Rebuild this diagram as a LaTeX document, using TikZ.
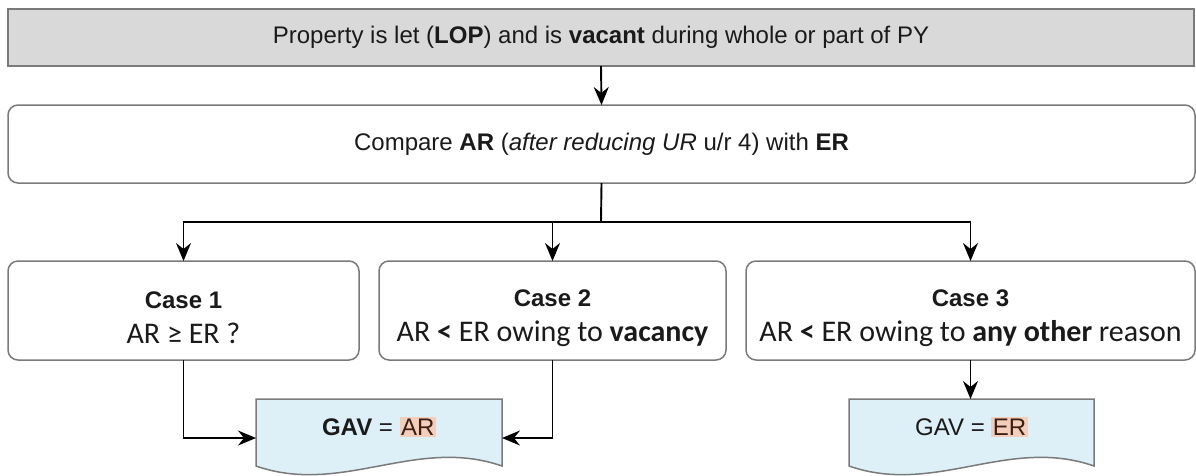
\documentclass[tikz,border=0pt]{standalone}
\usepackage{fontspec}
\setmainfont{Liberation Sans}
\newfontfamily\calfont{Carlito}
\usetikzlibrary{arrows.meta,backgrounds,calc}
\definecolor{barfill}{HTML}{D9D9D9}
\definecolor{edgegray}{HTML}{7A7A7A}
\definecolor{docfill}{HTML}{DDEFF7}
\definecolor{hl}{HTML}{F5CDBB}
\definecolor{hltext}{HTML}{3B1E14}
\definecolor{txt}{HTML}{1A1A1A}
\newcommand{\hlbox}[1]{{\setlength{\fboxsep}{1.5pt}\colorbox{hl}{\color{hltext}#1}}}
\newcommand{\casehead}[1]{{\fontspec{Liberation Sans}\fontsize{24}{28}\selectfont\bfseries\rule{0pt}{32pt}#1}}
\begin{document}
\begin{tikzpicture}[x=1pt,y=-1pt,
  every node/.style={inner sep=0pt,outer sep=0pt,text=txt},
  topbar/.style={draw=edgegray,line width=1.5pt,fill=barfill,minimum width=1186pt,minimum height=57pt,font=\fontsize{24}{28}\selectfont},
  cmpbox/.style={draw=edgegray,line width=1.5pt,rounded corners=10pt,minimum width=1187pt,minimum height=78pt,font=\fontsize{24}{28}\selectfont},
  casebox/.style={draw=edgegray,line width=1.5pt,rounded corners=10pt,minimum height=99pt,align=center,font=\calfont\fontsize{30}{35}\selectfont},
  docnode/.style={minimum width=246pt,text height=36pt,text depth=42pt,font=\fontsize{24}{28}\selectfont},
  docshape/.style={draw=edgegray,line width=1.5pt,fill=docfill},
  conn/.style={draw=black,line width=1.9pt,-{Stealth[length=18pt,width=15pt,inset=6pt]}},
  plainline/.style={draw=black,line width=1.9pt}
]
\useasboundingbox (0,0) rectangle (1196,475);

\node[topbar] (bar) at (601,37.5) {Property is let (\textbf{LOP}) and is \textbf{vacant} during whole or part of PY};
\node[cmpbox] (cmp) at (601.5,144) {Compare \textbf{AR} (\textit{after reducing UR} u/r 4) with \textbf{ER}};

\node[casebox,minimum width=351pt] (c1) at (183.5,310.5) {\casehead{Case 1}\\AR ≥ ER ?};
\node[casebox,minimum width=347pt] (c2) at (552.5,310.5) {\casehead{Case 2}\\AR \textbf{<} ER owing to \textbf{vacancy}};
\node[casebox,minimum width=449pt] (c3) at (970.5,310.5) {\casehead{Case 3}\\AR \textbf{<} ER owing to \textbf{any other} reason};

\node[docnode] (dAR) at (379,438) {\textbf{GAV} = \hlbox{AR}};
\node[docnode,minimum width=245pt] (dER) at (971.5,438) {GAV = \hlbox{ER}};

\begin{scope}[on background layer]
\fill[white] (0,0) rectangle (1196,475);
\foreach \d in {dAR,dER}{
  \path[docshape] (\d.north west) -- (\d.north east) -- ($(\d.south east)+(0,-11)$)
    .. controls ($(\d.south east)+(-86,-41)$) and ($(\d.south west)+(86,19)$) .. ($(\d.south west)+(0,-11)$) -- cycle;
}
\end{scope}

\coordinate (split) at (601,222);
\draw[conn] (bar.south) -- (cmp.north);
\draw[plainline] (cmp.south) -- (split);
\draw[conn] (split) -| (c1.north);
\draw[conn] (split) -| (c3.north);
\draw[conn] (c2.north |- split) -- (c2.north);
\draw[conn] (c1.south) |- (dAR.west);
\draw[conn] (c2.south) |- (dAR.east);
\draw[conn] (c3.south) -- (c3.south |- dER.north);
\end{tikzpicture}
\end{document}
